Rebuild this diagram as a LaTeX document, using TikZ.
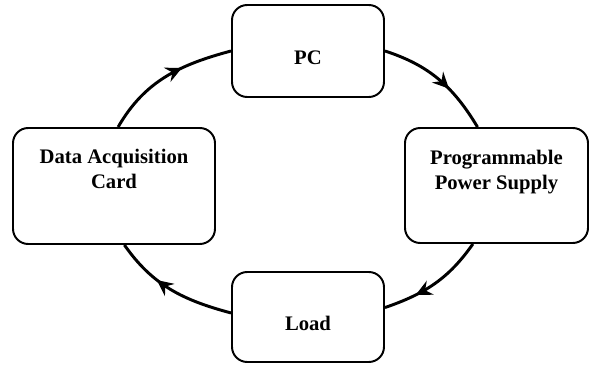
\documentclass[tikz,border=0pt]{standalone}
\usepackage{fontspec}
\setmainfont{Liberation Serif}
\usetikzlibrary{arrows.meta,decorations.markings}

\begin{document}
\begin{tikzpicture}[line width=1.4pt,
    block/.style={draw,rounded corners=0.38cm,inner sep=0pt},
    tag/.style={font=\bfseries\fontsize{14.7}{17.8}\selectfont,align=center},
    link/.style={line width=2.1pt,postaction={decorate},
      decoration={markings,mark=at position #1 with {\arrow{Stealth[length=11.5pt,width=11pt,inset=4pt]}}}},
    link/.default=0.6]
  \useasboundingbox (0,0) rectangle (14.725,9.125);

  % the four units
  \node[block,minimum width=3.8cm,minimum height=2.3cm] (pc) at (7.7,7.85) {};
  \node[block,minimum width=5.05cm,minimum height=2.9cm] (dac) at (2.85,4.475) {};
  \node[block,minimum width=4.575cm,minimum height=2.875cm] (pps) at (12.4125,4.4875) {};
  \node[block,minimum width=3.8cm,minimum height=2.25cm] (load) at (7.7,1.2) {};

  \node[tag] (pc-text) at (7.7,7.675) {PC};
  \node[tag] (dac-text) at (2.85,4.89) {Data Acquisition\\Card};
  \node[tag] (pps-text) at (12.4125,4.83) {Programmable\\Power Supply};
  \node[tag] (load-text) at (7.7,1.05) {Load};

  % closed loop, clockwise
  \draw[link=0.63] (dac.86) to[out=60,in=195] (pc.west);
  \draw[link=0.61] (pc.east) to[out=-18,in=121] (pps.108);
  \draw[link=0.7] (pps.248) to[out=-125,in=19] (load.7);
  \draw[link=0.63] (load.177) to[out=165,in=-55] (dac.280);
\end{tikzpicture}
\end{document}
